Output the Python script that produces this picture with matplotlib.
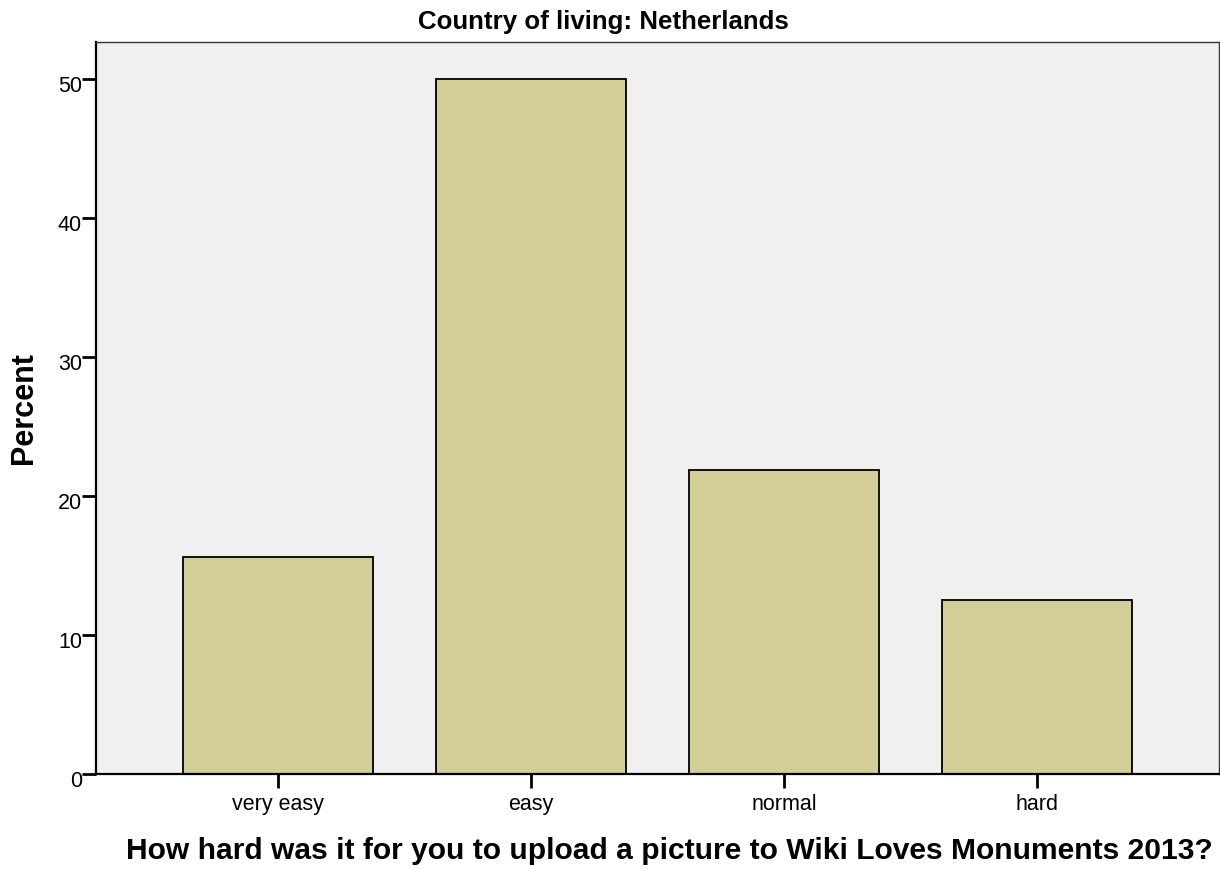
import matplotlib
matplotlib.use("Agg")
from matplotlib import pyplot as plt
from matplotlib import transforms

#data
categories = ["very easy", "easy", "normal", "hard"]
percent = [15.6, 50.0, 21.9, 12.5]
y_ticks = [0, 10, 20, 30, 40, 50]

plt.rcParams['font.family'] = ['Liberation Sans', 'DejaVu Sans']

fig = plt.figure(figsize=(12.2, 8.7), dpi=100)
ax = fig.add_axes([96/1220, 1-775/870, (1219-96)/1220, (775-43)/870])
ax.set_facecolor("#f0f0f0")

pos = list(range(len(categories)))
ax.bar(pos, percent, width=0.75, color="#d3ce97", edgecolor="black", linewidth=1.3, zorder=2)

ax.set_xlim(-0.72, 3.72)
ax.set_ylim(0, 52.66)
ax.set_xticks(pos)
ax.set_xticklabels(categories)
ax.set_yticks(y_ticks)
ax.tick_params(axis="both", direction="out", length=10, width=2, labelsize=15.5, color="black")
ax.tick_params(axis="y", pad=0)
ax.tick_params(axis="x", pad=4)
# numbers on the y axis sit a little below their ticks
shift = transforms.ScaledTranslation(0, -4/100, fig.dpi_scale_trans)
for lbl in ax.get_yticklabels():
    lbl.set_transform(lbl.get_transform() + shift)
for s in ["left", "bottom"]:
    ax.spines[s].set_linewidth(1.6)
for s in ["top", "right"]:
    ax.spines[s].set_linewidth(1.0)
    ax.spines[s].set_color("#333333")

ax.set_ylabel("Percent", fontsize=22, fontweight="bold")
ax.yaxis.set_label_coords(-0.051, 0.501)
ax.set_xlabel("How hard was it for you to upload a picture to Wiki Loves Monuments 2013?",
              fontsize=21.6, fontweight="bold")
ax.xaxis.set_label_coords(0.511, -0.085)
fig.text(603/1220, 1-22/870, "Country of living: Netherlands", ha="center", va="center",
         fontsize=18.6, fontweight="bold")

fig.savefig("out.png", dpi=100)
